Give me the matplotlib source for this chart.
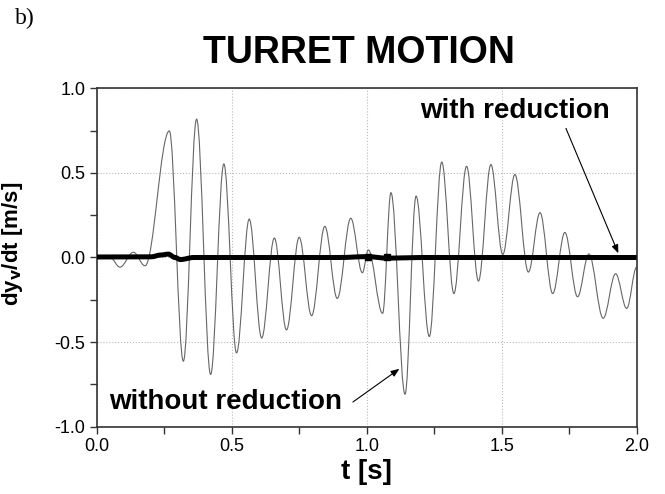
import numpy as np
import matplotlib
matplotlib.use("Agg")
import matplotlib.pyplot as plt
from matplotlib.path import Path
from matplotlib.patches import PathPatch
from matplotlib.ticker import MultipleLocator

plt.rcParams["font.family"] = ["Liberation Sans", "DejaVu Sans"]

# thin curve (without reduction): successive extrema
T_RAW = [0.0, 0.05, 0.086, 0.136, 0.179, 0.269, 0.321, 0.370, 0.422, 0.471,
         0.518, 0.565, 0.611, 0.658, 0.703, 0.750, 0.796, 0.845, 0.891, 0.941,
         0.984, 1.006, 1.059, 1.090, 1.142, 1.183, 1.232, 1.278, 1.323, 1.370,
         1.414, 1.460, 1.504, 1.549, 1.599, 1.642, 1.689, 1.734, 1.781, 1.823,
         1.876, 1.922, 1.963, 2.0]
Y_RAW = [0.0, 0.0, -0.057, 0.031, -0.049, 0.748, -0.613, 0.818, -0.691, 0.553,
         -0.564, 0.227, -0.476, 0.115, -0.428, 0.119, -0.344, 0.184, -0.242, 0.232,
         -0.090, 0.045, -0.330, 0.383, -0.808, 0.363, -0.467, 0.564, -0.213, 0.539,
         -0.139, 0.549, 0.018, 0.490, -0.086, 0.265, -0.213, 0.148, -0.232, 0.021,
         -0.359, -0.096, -0.301, -0.057]

# thick curve (with reduction)
T_RED = [0.0, 0.20, 0.24, 0.265, 0.29, 0.31, 0.36, 0.90, 1.0, 1.08, 1.20, 2.0]
Y_RED = [0.003, 0.004, 0.015, 0.02, 0.0, -0.012, 0.0, 0.0, 0.005, -0.004, 0.0, 0.0]
T_BLOB = [1.005, 1.075]
Y_BLOB = [0.0, 0.0]


def smooth_path(ts, ys, k=0.363):
    """Bezier path through extrema, flat tangent at each one."""
    verts = [(ts[0], ys[0])]
    codes = [Path.MOVETO]
    for (t0, y0), (t1, y1) in zip(zip(ts[:-1], ys[:-1]), zip(ts[1:], ys[1:])):
        dt = t1 - t0
        verts += [(t0 + k * dt, y0), (t1 - k * dt, y1), (t1, y1)]
        codes += [Path.CURVE4] * 3
    return Path(verts, codes)


fig = plt.figure(figsize=(6.65, 4.94), dpi=100)
ax = fig.add_axes([0.1454, 0.1362, 0.8120, 0.6851])

ax.add_patch(PathPatch(smooth_path(T_RAW, Y_RAW), fill=False,
                       edgecolor="#666666", lw=0.8, zorder=2))
ax.add_patch(PathPatch(smooth_path(T_RED, Y_RED), fill=False,
                       edgecolor="black", lw=3.6, zorder=3))
ax.plot(T_BLOB, Y_BLOB, "s", color="black", ms=5, zorder=4)

ax.set_xlim(0, 2.0)
ax.set_ylim(-1.0, 1.0)
ax.xaxis.set_major_locator(MultipleLocator(0.5))
ax.xaxis.set_minor_locator(MultipleLocator(0.25))
ax.yaxis.set_major_locator(MultipleLocator(0.5))
ax.yaxis.set_minor_locator(MultipleLocator(0.25))
ax.xaxis.set_major_formatter(plt.FormatStrFormatter("%.1f"))
ax.yaxis.set_major_formatter(plt.FormatStrFormatter("%.1f"))
ax.tick_params(which="both", direction="out", length=5, width=1.0,
               color="#333333", labelsize=13, pad=3)
ax.grid(True, which="major", linestyle=":", color="#bbbbbb", lw=0.8)
for s in ax.spines.values():
    s.set_color("#333333")
    s.set_linewidth(1.2)

ax.set_xlabel("t [s]", fontsize=20, fontweight="bold", labelpad=3)
ax.set_ylabel(r"dy$_\mathbf{v}$/dt [m/s]", fontsize=16, fontweight="bold")
ax.yaxis.set_label_coords(-0.133, 0.54)

ax.text(1.548, 0.867, "with reduction", fontsize=20, fontweight="bold",
        ha="center", va="center")
ax.text(0.478, -0.852, "without reduction", fontsize=20, fontweight="bold",
        ha="center", va="center")
arrow = dict(arrowstyle="-|>,head_length=0.5,head_width=0.2", lw=0.8, color="black",
             shrinkA=0, shrinkB=0)
ax.annotate("", xy=(1.932, 0.025), xytext=(1.738, 0.763), arrowprops=arrow)
ax.annotate("", xy=(1.121, -0.658), xytext=(0.949, -0.854), arrowprops=arrow)

fig.text(0.540, 0.893, "TURRET MOTION", fontsize=27, fontweight="bold",
         ha="center", va="center")
fig.text(0.023, 0.963, "b)", fontsize=17, family="Liberation Serif",
         ha="left", va="center")

fig.savefig("out.png", dpi=100)
